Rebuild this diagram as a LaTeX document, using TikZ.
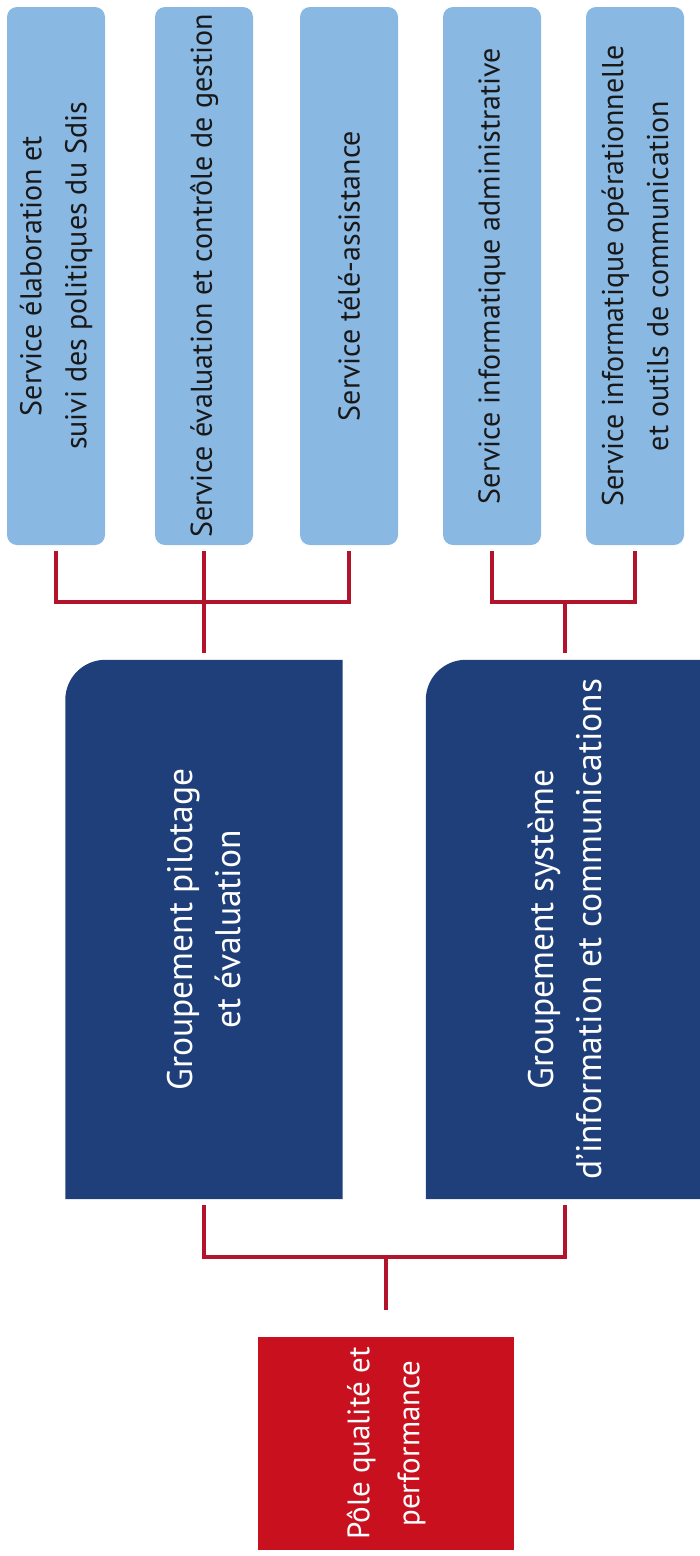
\documentclass[tikz,border=0pt]{standalone}
\usepackage{fontspec}
\setmainfont{PT Sans}
\usetikzlibrary{backgrounds}
\definecolor{servblue}{HTML}{89B8E3}
\definecolor{grpnavy}{HTML}{1E3F7A}
\definecolor{polered}{HTML}{C8101E}
\definecolor{linkred}{HTML}{B2142C}

\begin{document}
\begin{tikzpicture}[x=1pt, y=-1pt,
    service/.style={rotate=90, fill=servblue, rounded corners=10pt, minimum width=538pt,
      minimum height=98pt, inner sep=0pt, align=center, text=black!90,
      font=\fontsize{30}{45}\selectfont},
    groupe/.style={rotate=90, minimum width=539pt, inner sep=0pt, align=center,
      text=white, font=\fontsize{35.5}{48}\selectfont},
    pole/.style={rotate=90, fill=polered, minimum width=213pt, minimum height=256pt,
      inner sep=0pt, align=center, text=white, font=\fontsize{31}{50}\selectfont},
    link/.style={draw=linkred, line width=4pt}]
    \useasboundingbox (0, 0) rectangle (699, 1556);
    \node[service] (Service Elaboration) at (56, 276) {Service élaboration et\\suivi des politiques du Sdis};
    \node[service] (Service Evaluation) at (204, 276) {Service évaluation et contrôle de gestion};
    \node[service] (Service Tele) at (349, 276) {Service télé-assistance};
    \node[service] (Service Info Admin) at (492, 276) {Service informatique administrative};
    \node[service] (Service Info Ope) at (635, 276) {Service informatique opérationnelle\\et outils de communication};
    \node[groupe, minimum height=277pt] (Groupement Pilotage) at (204, 929.5) {Groupement pilotage\\et évaluation};
    \node[groupe, minimum height=278pt] (Groupement Systeme) at (565, 929.5) {Groupement système\\d'information et communications};
    \node[pole] (Pole) at (386, 1443.5) {Pôle qualité et\\performance};
    \begin{scope}[on background layer]
      \fill[grpnavy] (Groupement Pilotage.south west) -- (Groupement Pilotage.north west)
        -- ([yshift=-40pt]Groupement Pilotage.north east) arc[start angle=180, end angle=90, radius=40pt]
        -- (Groupement Pilotage.south east) -- cycle;
      \fill[grpnavy] (Groupement Systeme.south west) -- (Groupement Systeme.north west)
        -- ([yshift=-40pt]Groupement Systeme.north east) arc[start angle=180, end angle=90, radius=40pt]
        -- (Groupement Systeme.south east) -- cycle;
    \end{scope}
    \coordinate (Bar Pilotage) at (204, 602);
    \coordinate (Bar Systeme) at (565, 602);
    \coordinate (Bar Pole) at (386, 1257);
    \draw[link, shorten <=6pt, shorten >=6pt] (Service Elaboration.west) |- (Bar Pilotage) -| (Service Tele.west);
    \draw[link, shorten <=6pt, shorten >=7pt] (Service Evaluation.west) -- (Groupement Pilotage.east);
    \draw[link, shorten <=6pt, shorten >=6pt] (Service Info Admin.west) |- (Bar Systeme) -| (Service Info Ope.west);
    \draw[link, shorten >=7pt] (Bar Systeme) -- (Groupement Systeme.east);
    \draw[link, shorten <=6pt, shorten >=6pt] (Groupement Pilotage.west) |- (Bar Pole) -| (Groupement Systeme.west);
    \draw[link, shorten >=27pt] (Bar Pole) -- (Pole.east);
\end{tikzpicture}
\end{document}
